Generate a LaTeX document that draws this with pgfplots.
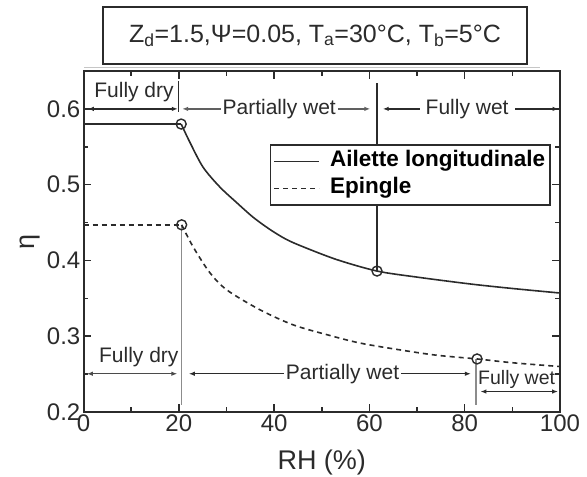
\documentclass[border=0pt]{standalone}
\usepackage{pgfplots}
\pgfplotsset{compat=1.18}
\usepackage{fontspec}
\setmainfont{Liberation Sans}
\usetikzlibrary{arrows.meta}
\definecolor{ink}{HTML}{2B2B2B}
\definecolor{lightink}{HTML}{8C8C8C}

% efficiency of the longitudinal fin (solid) and the pin fin (dashed)
\pgfplotstableread{
x y
20.5 0.580
22.4 0.555
25.1 0.523
28.6 0.497
32.2 0.476
35.6 0.457
39.1 0.441
42.5 0.428
46.1 0.418
53.2 0.401
61.6 0.386
70.0 0.378
81.1 0.369
90.0 0.363
100 0.357
}\ailette
\pgfplotstableread{
x y
20.6 0.447
23.0 0.418
26.5 0.384
30.1 0.361
37.0 0.335
44.0 0.315
51.1 0.302
58.0 0.291
66.4 0.282
74.0 0.275
82.6 0.270
90.0 0.265
100 0.260
}\epingle

\newcommand{\annfont}{\fontsize{21}{24}\selectfont}
\tikzset{dimarrow/.style={ink, line width=1.3pt, {Latex[length=6pt,width=4.5pt]}-{Latex[length=6pt,width=4.5pt]}}}

\begin{document}
\begin{tikzpicture}
\useasboundingbox (0pt,0pt) rectangle (587pt,477pt);
% condition box above the plot
\draw[lightink!50, line width=0.8pt] (84pt,410pt) -- (540pt,410pt);
\node[draw=ink, line width=2pt, minimum width=424pt, minimum height=57pt, inner sep=0pt, text=ink,
  font=\fontsize{25}{28}\selectfont] at (315pt,441.5pt)
  {Z\textsubscript{d}=1.5,Ψ=0.05, T\textsubscript{a}=30°C, T\textsubscript{b}=5°C};
\begin{axis}[
  at={(83.5pt,65pt)}, anchor=south west,
  scale only axis, width=476.5pt, height=341pt,
  xmin=0, xmax=100, ymin=0.2, ymax=0.65,
  xtick={0,20,40,60,80,100}, ytick={0.2,0.3,0.4,0.5,0.6},
  minor x tick num=1, minor y tick num=1,
  tick align=inside, major tick length=8pt, minor tick length=5pt,
  every tick/.style={ink, line width=1.5pt},
  axis line style={ink, line width=2pt},
  /pgf/number format/assume math mode=true,
  ticklabel style={font=\fontsize{24}{26}\selectfont, text=ink},
  xticklabel style={inner sep=1pt, yshift=-2pt},
  yticklabel style={inner sep=3pt, /pgf/number format/fixed, /pgf/number format/precision=1, /pgf/number format/fixed zerofill},
  xlabel={RH (\%)}, ylabel={η},
  label style={font=\fontsize{27}{30}\selectfont, text=ink},
  xlabel style={yshift=-13pt},
  ylabel style={yshift=0pt},
  legend style={at={(axis cs:98.1,0.5538)}, anchor=north east, draw=ink, line width=1.8pt,
    fill=white, font=\bfseries\fontsize{22.5}{26}\selectfont, inner xsep=3pt, inner ysep=4pt,
    row sep=2pt, column sep=8pt,
    nodes={inner sep=2pt, text height=16pt, text depth=5pt, text=black}},
  legend cell align=left,
  legend image code/.code={\draw[#1, line width=1.6pt] (0pt,0pt) -- (45pt,0pt);},
]
% separators between the regimes
\draw[ink, line width=1.6pt] (axis cs:61.6,0.634) -- (axis cs:61.6,0.386);
\draw[ink, line width=1.4pt] (axis cs:19.9,0.637) -- (axis cs:19.9,0.596);
\draw[lightink, line width=1.6pt] (axis cs:20.6,0.447) -- (axis cs:20.6,0.209);
\draw[lightink, line width=1.6pt] (axis cs:82.4,0.270) -- (axis cs:82.4,0.209);

% fully dry plateaus
\addplot[ink, line width=1.6pt, forget plot] coordinates {(0,0.580) (20.5,0.580)};
\addplot[ink, line width=1.6pt, dash pattern=on 5pt off 4pt, forget plot] coordinates {(0,0.447) (20.6,0.447)};

\addplot[ink, line width=1.6pt, smooth] table {\ailette};
\addlegendentry{Ailette longitudinale}
\addplot[ink, line width=1.6pt, smooth, dash pattern=on 5pt off 4pt] table {\epingle};
\addlegendentry{Epingle}

% regime boundaries on each curve
\addplot[only marks, mark=o, mark size=5pt, ink, fill=white, line width=1.4pt, forget plot]
  coordinates {(20.5,0.580) (61.6,0.386) (20.6,0.447) (82.6,0.270)};

% regimes of the longitudinal fin
\draw[dimarrow] (axis cs:0.9,0.6) -- (axis cs:19.8,0.6);
\node[text=ink, font=\annfont] at (axis cs:10.6,0.622) {Fully dry};
\draw[dimarrow, draw=ink!75] (axis cs:20.7,0.6) -- (axis cs:60.2,0.6)
  node[midway, fill=white, inner sep=2pt, text=ink, font=\annfont, xshift=3pt] {Partially wet};
\draw[dimarrow] (axis cs:62.8,0.6) -- (axis cs:99.7,0.6)
  node[pos=0.48, fill=white, inner xsep=6pt, inner ysep=2pt, text=ink, font=\annfont] {Fully wet};

% regimes of the pin fin
\draw[dimarrow, draw=ink!85] (axis cs:0.7,0.2505) -- (axis cs:19.7,0.2505);
\node[text=ink, font=\annfont] at (axis cs:11.6,0.272) {Fully dry};
\draw[dimarrow] (axis cs:22.1,0.2505) -- (axis cs:81.3,0.2505)
  node[pos=0.545, fill=white, inner sep=2pt, text=ink, font=\annfont] {Partially wet};
\node[text=ink, font=\fontsize{19.5}{22}\selectfont] at (axis cs:90.9,0.2435) {Fully wet};
\draw[dimarrow] (axis cs:83.3,0.227) -- (axis cs:99.6,0.227);
\end{axis}
\end{tikzpicture}
\end{document}
